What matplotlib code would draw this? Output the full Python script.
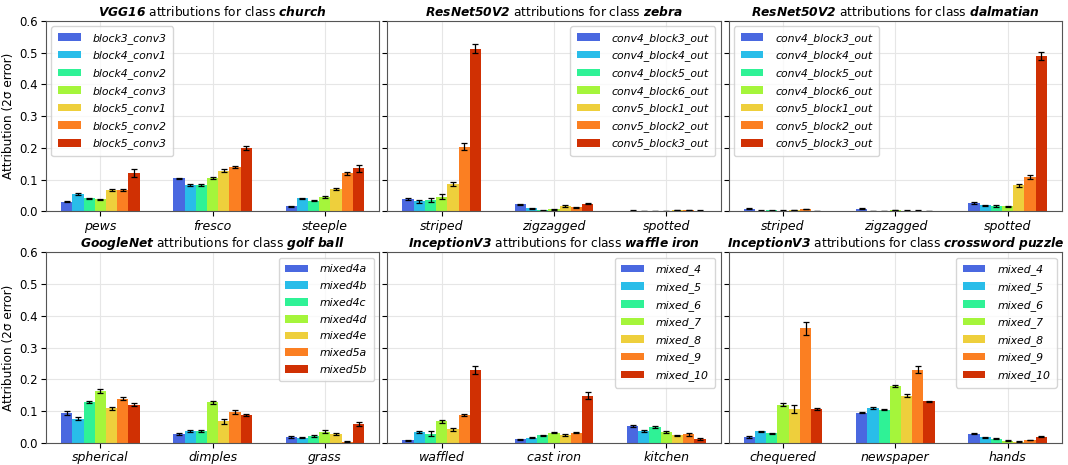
import numpy as np
import matplotlib.pyplot as plt

# colours (turbo-like ramp)
colors = ['#4a68e0', '#29bde9', '#2ff296', '#a5f53b', '#eecf3c', '#fb7f22', '#d03003']

# VGG16 / church
vgg_layers = ['block3_conv3', 'block4_conv1', 'block4_conv2', 'block4_conv3',
              'block5_conv1', 'block5_conv2', 'block5_conv3']
vgg_concepts = ['pews', 'fresco', 'steeple']
vgg_vals = [[0.031, 0.054, 0.042, 0.038, 0.067, 0.067, 0.121],
            [0.104, 0.084, 0.084, 0.106, 0.129, 0.140, 0.200],
            [0.016, 0.041, 0.034, 0.047, 0.072, 0.120, 0.136]]
vgg_err = [[0.002, 0.003, 0.002, 0.002, 0.004, 0.003, 0.012],
           [0.002, 0.003, 0.003, 0.004, 0.004, 0.004, 0.005],
           [0.002, 0.003, 0.002, 0.003, 0.003, 0.004, 0.011]]

# ResNet50V2 / zebra + dalmatian
res_layers = ['conv4_block3_out', 'conv4_block4_out', 'conv4_block5_out', 'conv4_block6_out',
              'conv5_block1_out', 'conv5_block2_out', 'conv5_block3_out']
zebra_concepts = ['striped', 'zigzagged', 'spotted']
zebra_vals = [[0.039, 0.032, 0.036, 0.047, 0.086, 0.204, 0.513],
              [0.023, 0.010, 0.004, 0.007, 0.017, 0.013, 0.025],
              [0.003, 0.001, 0.001, 0.001, 0.005, 0.005, 0.003]]
zebra_err = [[0.004, 0.004, 0.005, 0.007, 0.007, 0.011, 0.014],
             [0.002, 0.001, 0.001, 0.001, 0.002, 0.002, 0.002],
             [0.001, 0.001, 0.001, 0.001, 0.001, 0.001, 0.001]]
dal_concepts = ['striped', 'zigzagged', 'spotted']
dal_vals = [[0.009, 0.003, 0.004, 0.003, 0.005, 0.008, 0.001],
            [0.009, 0.002, 0.001, 0.005, 0.003, 0.003, 0.001],
            [0.027, 0.019, 0.017, 0.016, 0.082, 0.108, 0.489]]
dal_err = [[0.001, 0.001, 0.001, 0.001, 0.001, 0.001, 0.001],
           [0.001, 0.001, 0.001, 0.001, 0.001, 0.001, 0.001],
           [0.002, 0.002, 0.002, 0.002, 0.006, 0.007, 0.013]]

# GoogleNet / golf ball
goog_layers = ['mixed4a', 'mixed4b', 'mixed4c', 'mixed4d', 'mixed4e', 'mixed5a', 'mixed5b']
golf_concepts = ['spherical', 'dimples', 'grass']
golf_vals = [[0.095, 0.077, 0.129, 0.165, 0.109, 0.140, 0.121],
             [0.029, 0.038, 0.038, 0.128, 0.068, 0.097, 0.088],
             [0.020, 0.017, 0.021, 0.036, 0.029, 0.004, 0.060]]
golf_err = [[0.006, 0.005, 0.004, 0.006, 0.004, 0.006, 0.005],
            [0.004, 0.004, 0.004, 0.004, 0.008, 0.007, 0.004],
            [0.003, 0.002, 0.003, 0.004, 0.003, 0.001, 0.005]]

# InceptionV3 / waffle iron + crossword puzzle
inc_layers = ['mixed_4', 'mixed_5', 'mixed_6', 'mixed_7', 'mixed_8', 'mixed_9', 'mixed_10']
waffle_concepts = ['waffled', 'cast iron', 'kitchen']
waffle_vals = [[0.008, 0.036, 0.029, 0.069, 0.043, 0.088, 0.229],
               [0.012, 0.017, 0.024, 0.033, 0.025, 0.033, 0.149],
               [0.053, 0.038, 0.049, 0.036, 0.024, 0.027, 0.013]]
waffle_err = [[0.002, 0.003, 0.008, 0.005, 0.004, 0.003, 0.012],
              [0.002, 0.002, 0.002, 0.003, 0.002, 0.003, 0.012],
              [0.003, 0.002, 0.003, 0.003, 0.002, 0.004, 0.002]]
cross_concepts = ['chequered', 'newspaper', 'hands']
cross_vals = [[0.019, 0.037, 0.031, 0.120, 0.106, 0.361, 0.107],
              [0.096, 0.111, 0.105, 0.180, 0.149, 0.231, 0.131],
              [0.029, 0.018, 0.014, 0.007, 0.004, 0.009, 0.020]]
cross_err = [[0.002, 0.002, 0.002, 0.005, 0.013, 0.020, 0.003],
             [0.003, 0.003, 0.002, 0.004, 0.005, 0.010, 0.002],
             [0.002, 0.001, 0.001, 0.001, 0.001, 0.001, 0.001]]

panels = [
    (r'$\mathbfit{VGG16}$ attributions for class $\mathbfit{church}$',
     vgg_layers, vgg_concepts, vgg_vals, vgg_err, 'upper left'),
    (r'$\mathbfit{ResNet50V2}$ attributions for class $\mathbfit{zebra}$',
     res_layers, zebra_concepts, zebra_vals, zebra_err, 'upper right'),
    (r'$\mathbfit{ResNet50V2}$ attributions for class $\mathbfit{dalmatian}$',
     res_layers, dal_concepts, dal_vals, dal_err, 'upper left'),
    (r'$\mathbfit{GoogleNet}$ attributions for class $\mathbfit{golf\ ball}$',
     goog_layers, golf_concepts, golf_vals, golf_err, 'upper right'),
    (r'$\mathbfit{InceptionV3}$ attributions for class $\mathbfit{waffle\ iron}$',
     inc_layers, waffle_concepts, waffle_vals, waffle_err, 'upper right'),
    (r'$\mathbfit{InceptionV3}$ attributions for class $\mathbfit{crossword\ puzzle}$',
     inc_layers, cross_concepts, cross_vals, cross_err, 'upper right'),
]

plt.rcParams['mathtext.fontset'] = 'dejavusans'

fig, axes = plt.subplots(2, 3, figsize=(10.68, 4.65), dpi=100, sharey=True)
fig.subplots_adjust(left=0.043, right=0.9944, top=0.955, bottom=0.0473,
                    wspace=0.024, hspace=0.215)

width = 0.1
for ax, (title, layers, concepts, vals, errs, loc) in zip(axes.flat, panels):
    vals = np.array(vals)
    errs = np.array(errs)
    x = np.arange(len(concepts))
    for i, layer in enumerate(layers):
        ax.bar(x + (i - 3) * width, vals[:, i], width, yerr=errs[:, i],
               color=colors[i], label=layer, capsize=2,
               error_kw=dict(elinewidth=0.9, capthick=0.9, ecolor='black'))
    ax.set_xticks(x)
    ax.set_xticklabels(concepts, fontsize=9, fontstyle='italic')
    ax.set_ylim(0, 0.6)
    ax.set_yticks(np.arange(0, 0.61, 0.1))
    ax.tick_params(axis='both', labelsize=8.5, length=3.5, pad=2.5)
    ax.tick_params(axis='x', labelsize=9)
    ax.grid(True, color='#e6e6e6', linewidth=0.8)
    ax.set_axisbelow(True)
    for s in ax.spines.values():
        s.set_color('#555555')
    ax.set_title(title, fontsize=8.8, pad=3.5)
    ax.legend(loc=loc, prop=dict(style='italic', size=7.8), handlelength=2.1,
              labelspacing=0.62, borderpad=0.6, handletextpad=1.1)

for ax in axes[:, 0]:
    ax.set_ylabel('Attribution (2σ error)', fontsize=8.7, labelpad=3)

plt.savefig('out.png', dpi=100)
